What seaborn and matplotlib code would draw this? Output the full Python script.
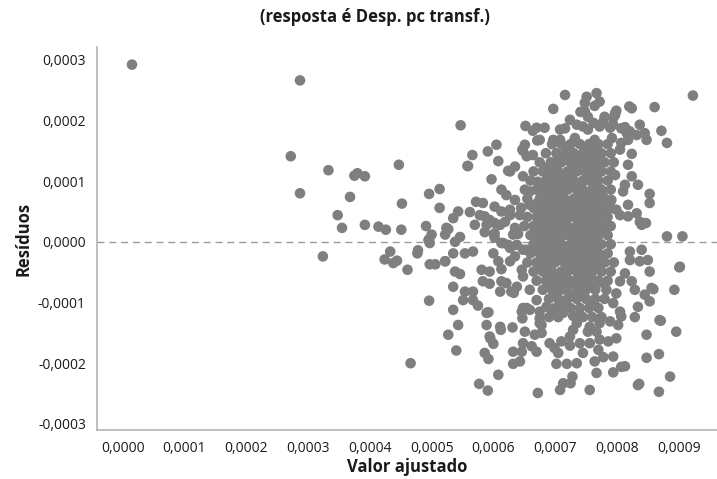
import matplotlib
matplotlib.use("Agg")
import matplotlib.pyplot as plt
import seaborn as sns
import numpy as np
import pandas as pd

# Fitted values and residuals, both in units of 1e-4
SCALE = 1e-4

points_sparse = [
    (0.15, 2.92), (2.87, 2.66), (2.72, 1.41), (2.87, 0.80), (3.33, 1.18), (3.75, 1.09),
    (3.80, 1.13), (3.68, 0.74), (3.48, 0.44), (3.55, 0.23), (3.24, -0.24), (3.92, 1.08),
    (4.47, 1.27), (4.52, 0.63), (4.96, 0.79), (5.13, 0.87), (5.13, 0.56), (3.92, 0.28),
    (4.14, 0.25), (4.26, 0.20), (4.51, 0.20), (4.91, 0.26), (5.00, 0.12), (4.96, 0.04),
    (5.27, 0.21), (5.22, 0.12), (4.24, -0.29), (4.33, -0.16), (4.38, -0.35), (4.44, -0.31),
    (4.61, -0.46), (4.77, -0.19), (4.78, -0.14), (4.66, -2.00), (4.96, -0.97), (4.97, -0.37),
    (5.06, -0.37), (5.22, -0.32), (4.95, 0.03), (4.97, -0.02), (5.47, 1.92), (5.58, 1.25),
    (5.66, 1.43), (5.43, 0.50), (5.35, 0.39), (5.72, 0.66),
    (9.23, 2.41), (8.81, 0.09), (9.06, 0.09), (9.01, -0.42), (8.93, -0.79), (8.96, -1.48),
    (8.71, -1.30), (8.68, -1.85), (8.48, -1.91), (8.86, -2.22), (8.68, -2.47), (8.36, -2.34),
    (8.48, -1.53), (8.72, 1.83), (8.81, 1.63), (8.61, 2.22),
]

points_mid_upper = [
    (5.91, 1.49), (6.05, 1.60), (6.08, 1.33), (5.59, 1.25), (6.35, 1.24), (6.27, 1.16),
    (6.48, 1.08), (5.97, 1.03), (6.13, 0.86), (6.21, 0.77), (6.59, 0.83), (6.72, 0.99),
    (6.89, 1.16), (5.83, 0.64), (6.02, 0.58), (6.13, 0.50), (5.86, 0.42), (5.89, 0.28),
    (6.02, 0.31), (6.19, 0.33), (6.27, 0.44), (6.02, 0.14), (5.24, 0.23), (5.46, 0.08),
    (6.40, 0.13), (6.35, 0.69), (6.51, 0.86), (6.27, 0.53), (6.43, 0.44), (6.59, 0.61),
    (6.11, 0.28), (6.35, 0.23), (5.94, 0.36), (5.78, 0.44), (5.62, 0.49), (5.70, 0.28),
    (5.86, 0.16), (6.02, 0.07), (6.24, 1.17), (6.47, 1.52), (6.54, 1.41), (6.64, 1.43),
    (6.75, 1.68), (6.51, 1.60), (6.48, 1.50), (6.52, 1.91), (6.70, 1.88), (6.64, 1.83),
    (6.97, 2.19), (7.16, 2.42), (6.71, 1.67), (6.97, 1.68), (7.16, 1.87),
]

points_mid_lower = [
    (5.38, 0.00), (5.35, -0.19), (5.54, -0.19), (5.67, -0.16), (5.22, -0.32), (5.38, -0.49),
    (6.00, -0.19), (6.08, -0.32), (5.81, -0.46), (5.83, -0.65), (6.13, -0.65), (6.29, -0.82),
    (6.11, -0.82), (5.35, -0.74), (5.54, -0.82), (5.67, -0.82), (5.51, -0.96), (5.67, -0.96),
    (5.35, -1.12), (5.92, -1.16), (6.46, -1.15), (6.54, -1.09), (6.46, -0.46), (6.48, -0.57),
    (6.38, -0.74), (6.59, -0.79), (6.70, -0.96), (6.86, -1.07), (6.38, -0.05), (6.54, -0.13),
    (6.16, -0.02), (6.27, -0.10), (5.75, -1.05), (5.94, -0.69), (6.21, -0.68), (6.33, -0.84),
    (5.46, -0.53), (5.94, -0.49), (6.13, -0.45), (6.01, 0.12), (6.13, -0.02), (6.24, -0.05),
    (6.32, 0.12), (6.27, -0.32), (6.35, -0.24), (6.48, -0.13),
    (5.43, -1.37), (5.27, -1.53), (5.40, -1.79), (5.89, -1.37), (6.11, -1.40), (6.31, -1.41),
    (5.94, -1.56), (6.00, -1.68), (5.86, -1.83), (5.92, -1.93), (6.32, -1.81), (6.46, -1.81),
    (6.48, -1.67), (6.32, -2.01), (6.43, -1.97), (6.08, -2.19), (5.77, -2.34), (5.91, -2.45),
    (6.72, -2.49), (6.51, -1.48), (6.67, -1.53), (6.78, -1.50), (6.62, -1.72), (6.70, -1.81),
    (6.91, -1.67), (6.99, -1.75), (7.05, -1.83), (7.10, -1.64), (7.02, -2.01), (7.13, -2.33),
    (7.08, -2.44), (6.75, -1.34), (5.89, -1.17), (6.12, -1.45), (6.47, -1.26), (6.59, -1.12),
    (6.48, -1.09), (6.75, -1.15), (6.78, -1.37), (6.75, -1.26), (5.95, -1.59),
]

points_right_lower = [
    (7.35, -1.34), (7.56, -1.40), (7.72, -1.34), (7.89, -1.31), (8.02, -1.37), (7.53, -1.48),
    (7.67, -1.48), (7.40, -1.67), (7.56, -1.67), (7.72, -1.61), (7.86, -1.64), (7.99, -1.59),
    (7.45, -1.83), (7.70, -1.78), (7.94, -1.89), (7.64, -1.97), (7.78, -1.90), (7.35, -2.00),
    (7.67, -2.16), (7.94, -2.15), (8.07, -2.06), (8.13, -2.05), (7.56, -2.44), (7.25, -2.33),
    (7.28, -2.22), (7.19, -2.01), (8.34, -2.36), (7.13, -1.17), (6.97, -1.15), (7.29, -1.22),
    (7.40, -1.20), (7.24, -1.56), (7.29, -1.45), (7.24, -1.71), (8.07, -1.23), (8.29, -1.24),
    (8.69, -1.29), (9.02, -0.41), (8.53, -0.49), (8.56, -0.76), (8.45, -0.87), (8.53, -0.98),
    (8.34, -1.07), (8.24, -0.65), (8.29, -0.79), (8.37, -0.32), (8.50, -0.30), (8.40, -0.13),
    (8.21, -0.16), (8.21, -0.30), (8.13, -0.52), (8.05, -0.65), (7.99, -0.85), (7.94, -1.01),
    (8.05, -1.15), (7.78, -0.68), (7.83, -0.79), (7.37, -0.60), (7.32, -0.68), (8.59, -0.78),
]

points_right_upper = [
    (8.18, 1.27), (8.24, 1.08), (8.34, 0.94), (8.53, 0.79), (8.53, 0.64), (8.10, 0.83),
    (8.18, 0.61), (7.99, 0.53), (8.18, 0.42), (8.32, 0.47), (8.37, 0.33), (8.40, 0.28),
    (8.47, 0.31), (7.91, 0.69), (8.05, 1.52), (7.97, 1.10), (8.13, 0.94), (8.05, 0.44),
    (7.80, 0.28), (8.24, 1.45),
    (7.51, 2.39), (7.67, 2.45), (7.72, 2.31), (7.48, 2.29), (7.64, 2.24), (8.24, 2.20),
    (8.20, 2.23), (7.97, 2.12), (7.94, 2.04), (7.48, 2.15), (7.53, 2.06), (7.80, 2.06),
    (7.78, 1.98), (7.35, 1.93), (7.45, 1.90), (7.62, 1.96), (7.72, 1.90), (7.94, 1.93),
    (8.07, 1.87), (8.21, 1.82), (8.32, 1.76), (8.45, 1.79), (8.48, 1.68), (8.07, 1.63),
    (8.16, 1.79), (7.41, 2.14), (7.24, 2.01), (7.08, 1.85), (6.83, 1.88), (7.08, 1.68),
    (7.32, 1.71), (7.64, 1.68), (7.92, 1.71), (8.18, 1.68), (8.37, 1.93), (7.99, 2.16),
    (7.97, 2.09), (7.53, 1.85), (7.89, 1.88), (8.13, 1.89),
]

# Dense central cloud: residual row -> fitted values on that row
core_rows = {
    1.61: [6.95, 7.10, 7.25, 7.40, 7.55, 7.70, 7.85],
    1.46: [6.85, 7.02, 7.18, 7.30, 7.45, 7.60, 7.75, 7.90],
    1.31: [6.75, 6.93, 7.10, 7.25, 7.40, 7.50, 7.65, 7.80, 7.95],
    1.16: [6.65, 6.80, 7.05, 7.20, 7.35, 7.48, 7.60, 7.75, 7.90],
    1.01: [6.60, 6.85, 7.00, 7.15, 7.30, 7.45, 7.55, 7.70, 7.85],
    0.86: [6.70, 6.90, 7.05, 7.20, 7.35, 7.45, 7.60, 7.75, 7.90],
    0.71: [6.55, 6.75, 6.90, 7.05, 7.15, 7.30, 7.45, 7.55, 7.70, 7.80],
    0.56: [6.45, 6.65, 6.80, 6.95, 7.10, 7.25, 7.35, 7.50, 7.65, 7.80, 7.90],
    0.41: [6.55, 6.70, 6.85, 7.00, 7.15, 7.30, 7.40, 7.55, 7.70, 7.85],
    0.26: [6.50, 6.65, 6.80, 6.95, 7.10, 7.20, 7.35, 7.50, 7.60, 7.75, 7.90],
    0.11: [6.60, 6.75, 6.90, 7.05, 7.15, 7.30, 7.45, 7.55, 7.70, 7.85],
    -0.04: [6.65, 6.80, 6.95, 7.10, 7.25, 7.35, 7.50, 7.65, 7.75, 7.90],
    -0.19: [6.60, 6.75, 6.90, 7.05, 7.20, 7.30, 7.45, 7.60, 7.70, 7.85],
    -0.34: [6.55, 6.70, 6.85, 7.00, 7.15, 7.25, 7.40, 7.55, 7.65, 7.80, 7.95],
    -0.49: [6.65, 6.80, 6.95, 7.10, 7.20, 7.35, 7.50, 7.60, 7.75, 7.90],
    -0.64: [6.70, 6.85, 7.00, 7.15, 7.25, 7.45, 7.55, 7.70, 7.85],
    -0.79: [6.80, 6.95, 7.10, 7.20, 7.40, 7.50, 7.65],
    -0.94: [6.90, 7.05, 7.20, 7.35, 7.50, 7.65, 7.80],
    -1.09: [7.00, 7.25, 7.40, 7.55, 7.70],
    -1.24: [6.90, 7.05, 7.45, 7.60, 7.75],
}

core_rows_b = {
    1.53: [7.17, 7.48, 7.63],
    1.38: [7.05, 7.20, 7.35, 7.58, 7.72],
    1.23: [6.88, 7.00, 7.30, 7.43, 7.57, 7.70],
    1.08: [6.93, 7.08, 7.25, 7.52, 7.65],
    0.93: [6.78, 6.97, 7.12, 7.27, 7.40, 7.68],
    0.78: [6.82, 6.98, 7.12, 7.38, 7.52, 7.63, 7.76],
    0.63: [6.70, 6.85, 7.00, 7.13, 7.28, 7.42, 7.58, 7.72],
    0.48: [6.77, 6.92, 7.08, 7.22, 7.48, 7.62, 7.78],
    0.33: [6.73, 6.88, 7.03, 7.17, 7.43, 7.57, 7.68],
    0.18: [6.68, 6.83, 6.98, 7.12, 7.23, 7.38, 7.50, 7.63, 7.78],
    0.03: [6.72, 6.87, 7.02, 7.28, 7.42, 7.58, 7.68],
    -0.12: [6.70, 6.85, 7.00, 7.13, 7.27, 7.40, 7.53, 7.68],
    -0.27: [6.78, 6.93, 7.08, 7.35, 7.50, 7.62, 7.75],
    -0.42: [6.77, 6.92, 7.20, 7.32, 7.45, 7.58, 7.70],
    -0.57: [6.88, 7.03, 7.17, 7.42, 7.58],
    -0.72: [6.92, 7.07, 7.35, 7.48, 7.62],
    -0.87: [7.00, 7.30, 7.45],
    -1.02: [7.12, 7.60],
}

points_core = [(fx, r) for rows in (core_rows, core_rows_b)
               for r, xs in rows.items() for fx in xs]

all_points = (points_sparse + points_mid_upper + points_mid_lower
              + points_right_lower + points_right_upper + points_core)
df = pd.DataFrame(all_points, columns=["ajustado", "residuo"]) * SCALE

sns.set_style("white")
plt.rcParams["font.family"] = ["Open Sans", "DejaVu Sans"]

fig = plt.figure(figsize=(7.17, 4.79), dpi=100)
ax = fig.add_axes([97 / 717, 1 - 430 / 479, 1 - 97 / 717, (430 - 47) / 479])

ax.axhline(0, color="#9a9a9a", linestyle=(0, (5, 3.5)), linewidth=1.0, zorder=1)
sns.scatterplot(data=df, x="ajustado", y="residuo", ax=ax, s=58, color="#7f7f7f",
                edgecolor="none", linewidth=0, zorder=2)

ax.set_xlim(-0.0000416, 0.000962)
ax.set_ylim(-0.00031, 0.000321)

xt = np.arange(0, 10) * 1e-4
yt = np.arange(-3, 4) * 1e-4
ax.set_xticks(xt)
ax.set_yticks(yt)
ax.set_xticklabels([f"{v:.4f}".replace(".", ",") for v in xt])
ax.set_yticklabels([f"{v:.4f}".replace(".", ",").replace("-0,0000", "0,0000") for v in yt])

for side in ["top", "right"]:
    ax.spines[side].set_visible(False)
for side in ["left", "bottom"]:
    ax.spines[side].set_color("#b4b4b4")
    ax.spines[side].set_linewidth(1.2)

ax.tick_params(axis="both", direction="out", length=4, width=1, color="#b4b4b4",
               labelsize=10, labelcolor="#1a1a1a", pad=4)

ax.set_xlabel("Valor ajustado", fontsize=12, fontweight="bold", color="#1a1a1a", labelpad=1)
ax.set_ylabel("Resíduos", fontsize=12, fontweight="bold", color="#1a1a1a", labelpad=4)
fig.text(375 / 717, 1 - 17 / 479, "(resposta é Desp. pc transf.)", ha="center", va="center",
         fontsize=12, fontweight="bold", color="#1a1a1a")

fig.savefig("out.png", dpi=100)
